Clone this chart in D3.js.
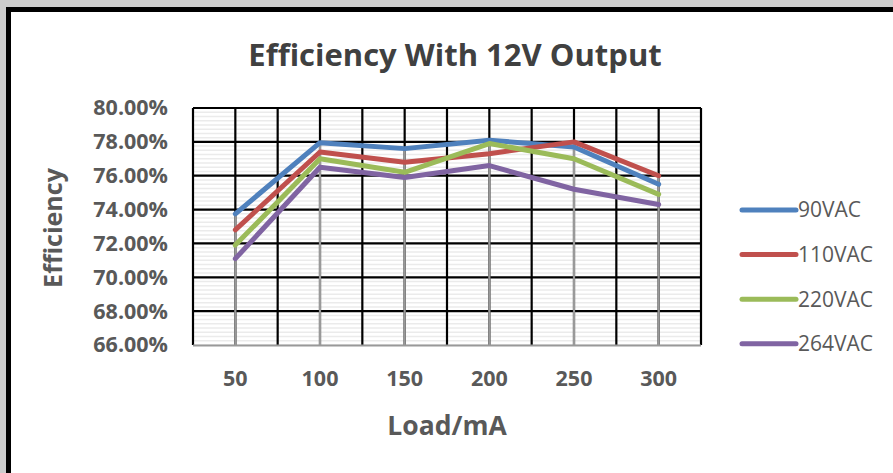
<!DOCTYPE html>
<html>
<head>
<meta charset="utf-8">
<script src="https://cdn.jsdelivr.net/npm/d3@7"></script>
<style>
  body { margin: 0; background: #cccccc; }
  svg { display: block; }
</style>
</head>
<body>
<div id="figure"></div>
<script>
// chart data
const loads = ["50", "100", "150", "200", "250", "300"];
const eff90 = [73.75, 77.95, 77.6, 78.1, 77.7, 75.5];
const eff110 = [72.8, 77.4, 76.8, 77.3, 78.0, 76.0];
const eff220 = [71.9, 77.0, 76.2, 77.9, 77.0, 74.9];
const eff264 = [71.1, 76.5, 75.9, 76.6, 75.2, 74.3];
const seriesNames = ["90VAC", "110VAC", "220VAC", "264VAC"];
const seriesColors = ["#4f81bd", "#c0504d", "#9bbb59", "#8064a2"];
const yTicks = [66, 68, 70, 72, 74, 76, 78, 80];

const series = [eff90, eff110, eff220, eff264].map((vals, i) => ({
  name: seriesNames[i], color: seriesColors[i],
  values: vals.map((v, j) => ({ load: loads[j], v: v }))
}));

const W = 893, H = 473;
const margin = {top: 108, right: 192, bottom: 128, left: 193};
const width = W - margin.left - margin.right,
      height = H - margin.top - margin.bottom;

const svg = d3.select("#figure").append("svg")
  .attr("width", W).attr("height", H)
  .style("font-family", "'Open Sans', sans-serif");

// outer frame
svg.append("rect").attr("x", 0).attr("y", 0).attr("width", W).attr("height", H).attr("fill", "#cccccc");
svg.append("rect").attr("x", 8.5).attr("y", 9.5).attr("width", W).attr("height", H)
  .attr("fill", "#ffffff").attr("stroke", "#000").attr("stroke-width", 5);

const g = svg.append("g").attr("transform", `translate(${margin.left},${margin.top})`);

const x = d3.scaleBand().domain(loads).range([0, width]);
const y = d3.scaleLinear().domain([66, 80]).range([height, 0]);

// minor horizontal gridlines
const minor = d3.range(66, 80.001, 0.25);
g.append("g").selectAll("line").data(minor).join("line")
  .attr("x1", 0).attr("x2", width)
  .attr("y1", d => y(d)).attr("y2", d => y(d))
  .attr("stroke", "#ebebeb").attr("stroke-width", 1.5);

// major horizontal gridlines
g.append("g").selectAll("line").data(yTicks.slice(1)).join("line")
  .attr("x1", 0).attr("x2", width)
  .attr("y1", d => y(d)).attr("y2", d => y(d))
  .attr("stroke", "#000").attr("stroke-width", 2.2);

// vertical gridlines at category edges and centres
const vPos = [];
loads.forEach(l => { vPos.push(x(l)); vPos.push(x(l) + x.bandwidth() / 2); });
vPos.push(width);
g.append("g").selectAll("line").data(vPos).join("line")
  .attr("x1", d => d).attr("x2", d => d)
  .attr("y1", 0).attr("y2", height)
  .attr("stroke", "#000").attr("stroke-width", 2.2);

// drop lines
g.append("g").selectAll("line").data(loads).join("line")
  .attr("x1", d => x(d) + x.bandwidth() / 2).attr("x2", d => x(d) + x.bandwidth() / 2)
  .attr("y1", (d, i) => y(d3.max(series, s => s.values[i].v)))
  .attr("y2", height)
  .attr("stroke", "#999").attr("stroke-width", 2.2);

// bottom axis line
g.append("line").attr("x1", 0).attr("x2", width).attr("y1", height + 0.5).attr("y2", height + 0.5)
  .attr("stroke", "#999").attr("stroke-width", 2);

// axes labels via d3 axes
const yAxis = g.append("g").call(d3.axisLeft(y).tickValues(yTicks).tickSize(0).tickPadding(25)
  .tickFormat(d => d.toFixed(2) + "%"));
yAxis.select(".domain").remove();
yAxis.selectAll("text").attr("fill", "#595959").attr("font-size", 21.5).attr("font-weight", "bold")
  .attr("font-family", "'Open Sans', sans-serif");

const xAxis = g.append("g").attr("transform", `translate(0,${height})`)
  .call(d3.axisBottom(x).tickSize(0).tickPadding(26));
xAxis.select(".domain").remove();
xAxis.selectAll("text").attr("fill", "#595959").attr("font-size", 21.5).attr("font-weight", "bold")
  .attr("font-family", "'Open Sans', sans-serif");

// lines
const line = d3.line().x(d => x(d.load) + x.bandwidth() / 2).y(d => y(d.v));
g.append("g").selectAll("path").data(series).join("path")
  .attr("d", d => line(d.values))
  .attr("fill", "none").attr("stroke", d => d.color)
  .attr("stroke-width", 5).attr("stroke-linejoin", "round").attr("stroke-linecap", "round");

// titles
svg.append("text").attr("x", 455).attr("y", 66).attr("text-anchor", "middle")
  .attr("font-size", 31).attr("font-weight", "bold").attr("fill", "#404040")
  .text("Efficiency With 12V Output");
svg.append("text").attr("transform", "translate(62,228) rotate(-90)").attr("text-anchor", "middle")
  .attr("font-size", 25).attr("font-weight", "bold").attr("fill", "#595959")
  .text("Efficiency");
svg.append("text").attr("x", 447).attr("y", 435).attr("text-anchor", "middle")
  .attr("font-size", 26.5).attr("font-weight", "bold").attr("fill", "#595959")
  .text("Load/mA");

// legend
const legend = svg.append("g").selectAll("g").data(series).join("g")
  .attr("transform", (d, i) => `translate(742,${210 + i * 44.6})`);
legend.append("line").attr("x1", 0).attr("x2", 54).attr("y1", 0).attr("y2", 0)
  .attr("stroke", d => d.color).attr("stroke-width", 5).attr("stroke-linecap", "round");
legend.append("text").attr("x", 56).attr("y", 0).attr("dy", "0.35em")
  .attr("font-size", 21).attr("fill", "#595959").text(d => d.name);
</script>
</body>
</html>
